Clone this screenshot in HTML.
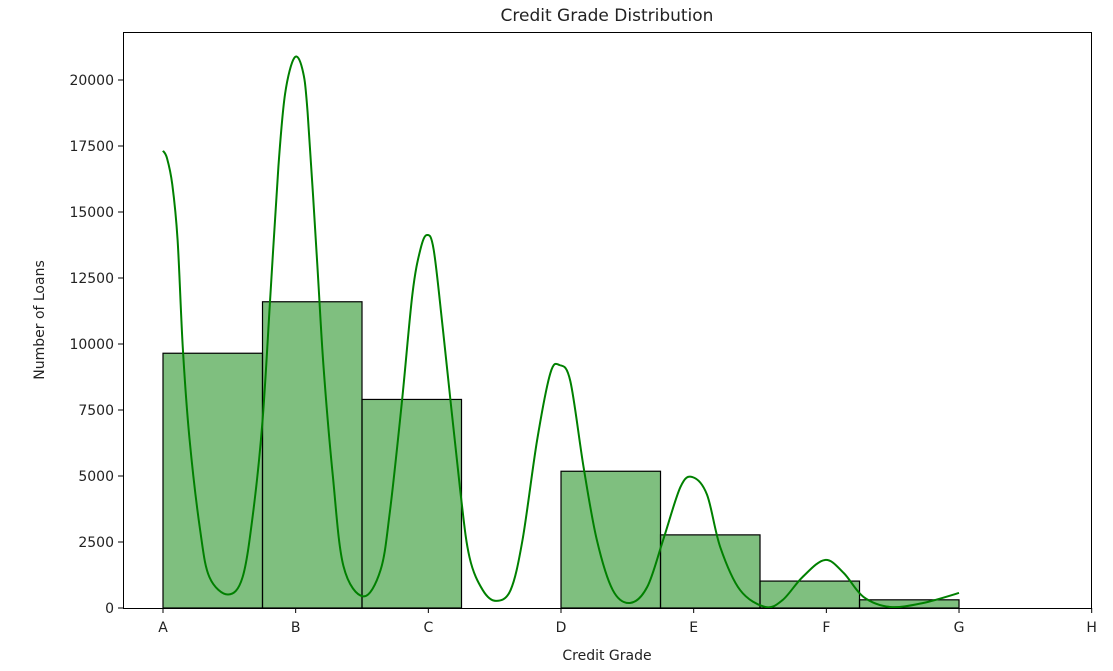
<!DOCTYPE html>
<html><head><meta charset="utf-8"><style>
body{margin:0;background:#fff;font-family:"Liberation Sans","DejaVu Sans",sans-serif}
svg text{font-family:"DejaVu Sans","Liberation Sans",sans-serif;fill:#222}
</style></head><body>
<svg id="chart" width="1113" height="666" xmlns="http://www.w3.org/2000/svg">
<text x="607" y="21" text-anchor="middle" font-size="17">Credit Grade Distribution</text>
<g id="bars"></g>
<g id="kde"></g>
<rect x="123.5" y="32.5" width="968" height="576" fill="none" stroke="#000" stroke-width="1"/>
<g id="xaxis"></g>
<g id="yaxis"></g>
<text x="607" y="660" text-anchor="middle" font-size="14">Credit Grade</text>
<text transform="translate(44,320) rotate(-90)" text-anchor="middle" font-size="14">Number of Loans</text>
</svg>
<script>
const categories=["A","B","C","D","E","F","G","H"];
const binEdges=[0,0.75,1.5,2.25,3,3.75,4.5,5.25,6];
const binCounts=[9650,11600,7900,0,5180,2770,1020,310];
const yTicks=[0,2500,5000,7500,10000,12500,15000,17500,20000];
const kdeX=[0,0.03,0.07,0.11,0.15,0.20,0.28,0.35,0.49,0.60,0.68,0.75,0.81,0.87,0.92,0.99,1.05,1.09,1.16,1.21,1.28,1.36,1.51,1.64,1.71,1.80,1.88,1.94,1.99,2.04,2.11,2.24,2.31,2.41,2.51,2.62,2.71,2.82,2.92,2.99,3.07,3.17,3.27,3.39,3.52,3.65,3.77,3.90,3.99,4.10,4.20,4.35,4.54,4.67,4.82,4.99,5.13,5.28,5.48,5.73,6.00];
const kdeY=[17320,17040,16040,13940,9790,6400,2950,1170,510,1170,3640,7080,11890,16730,19470,20840,20420,18770,13260,9140,5010,1590,440,1440,3640,7770,11890,13580,14130,13580,10550,4470,1930,680,270,680,2580,6360,8900,9200,8600,5340,2580,680,190,800,2580,4580,4960,4300,2310,680,40,300,1170,1820,1330,420,40,190,570];
const NS="http://www.w3.org/2000/svg";
const x=v=>163+v*132.67, y=v=>608-v*528/20000;
function mk(t,a,p){const e=document.createElementNS(NS,t);for(const k in a)e.setAttribute(k,a[k]);p.appendChild(e);return e;}
const bars=document.getElementById('bars');
binCounts.forEach((c,i)=>{if(c<=0)return;
const r=mk('rect',{x:x(binEdges[i]),y:y(c),width:x(binEdges[i+1])-x(binEdges[i]),height:y(0)-y(c),fill:'rgba(0,128,0,0.5)',stroke:'#000','stroke-width':1.2},bars);

});
let pts=kdeX.map((v,i)=>[x(v),y(kdeY[i])]);
let d='M'+pts[0][0]+','+pts[0][1];
for(let i=0;i<pts.length-1;i++){const p0=pts[i-1]||pts[i],p1=pts[i],p2=pts[i+1],p3=pts[i+2]||p2;
d+=` C${p1[0]+(p2[0]-p0[0])/6},${p1[1]+(p2[1]-p0[1])/6} ${p2[0]-(p3[0]-p1[0])/6},${p2[1]-(p3[1]-p1[1])/6} ${p2[0]},${p2[1]}`;}
const ln=mk('path',{d:d,fill:'none',stroke:'#008000','stroke-width':2},document.getElementById('kde'));


const xa=document.getElementById('xaxis');
categories.forEach((c,i)=>{mk('line',{x1:x(i),x2:x(i),y1:608,y2:613,stroke:'#000'},xa);
const t=mk('text',{x:x(i),y:632,'text-anchor':'middle','font-size':14},xa);t.textContent=c;

});
const ya=document.getElementById('yaxis');
yTicks.forEach(v=>{mk('line',{x1:118,x2:123,y1:y(v),y2:y(v),stroke:'#000'},ya);
const t=mk('text',{x:114,y:y(v)+5,'text-anchor':'end','font-size':14},ya);t.textContent=v;

});
</script>
</body></html>
